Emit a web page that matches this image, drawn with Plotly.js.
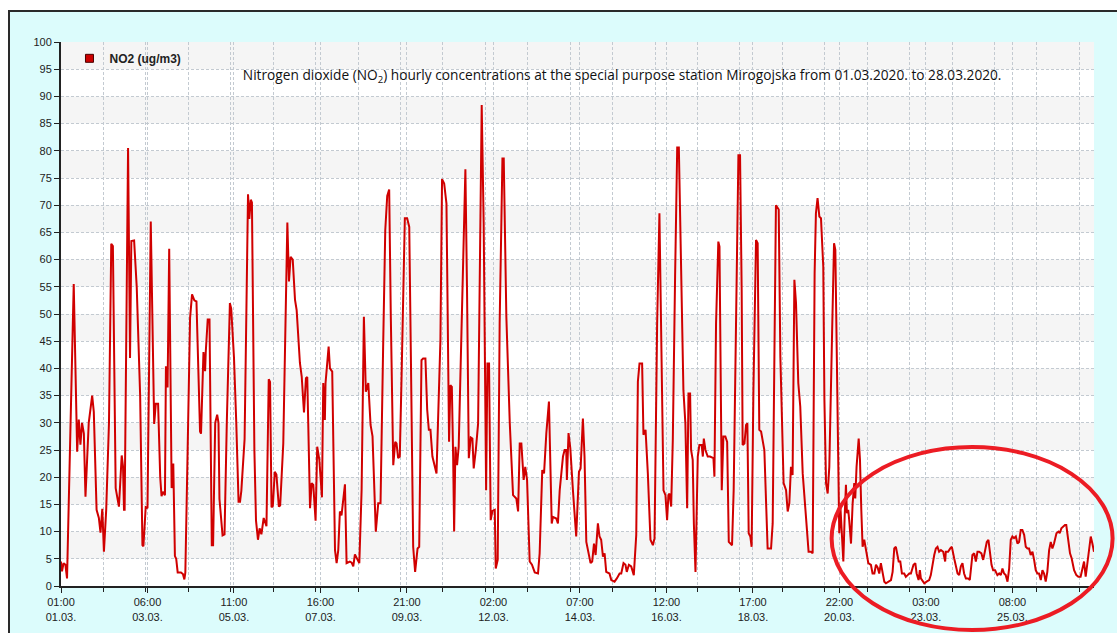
<!DOCTYPE html>
<html><head><meta charset="utf-8">
<script src="https://cdn.plot.ly/plotly-3.0.1.min.js"></script>
<style>
html,body{margin:0;padding:0;background:#ffffff;overflow:hidden;width:1117px;height:633px}
#frame{position:absolute;left:8px;top:10px;width:1140px;height:650px;background:#dcfcfc;border:2px solid #2a2a2a;box-sizing:border-box}
#chart{position:absolute;left:0;top:0;width:1117px;height:633px}
</style></head><body>
<div id="frame"></div><div id="chart"></div>
<script>
// Hours since 01.03.2020 01:00 and NO2 concentrations (ug/m3)
const hoursPart1 = [0,0.6,1.6,2.7,3.7,7.8,9.9,10.9,11.9,12.9,14,15,17,19.1,20.1,21.8,23.2,24.2,25.3,26.3,27.7,29.4,30.8,31.8,33.5,34.9,35.5,37.2,38,38.6,39,41.1,42.3,43.1,44.8,46.4,48.5,49.9,50.5,51.9,53,55,57.1,58.1,59.5,60.8,61.6,62.4,63.7,64.3,65.3,66.3,67.8,68.8,69.8,70.6,71.5,73.5,74.7,75.6,76.2,77.6,79.1,80.3,81.7,83,84.2,85.2,85.8,87.3,88.3,88.7,89.9,91,92.4,93.2,94.5,95.7,96.5,97.1,99,100.2,101.6,103.5,104.3,106,107.4,108.8,109.7,110.5,112.5,114.6,115.4,116.3,117,118.5,119.5,120.7,121.7,122.8,124.2,125.9,127.3,128.1,129,129.8,131,132,133.5,134.3];
const no2Part1 = [4.5,2.7,4.2,3.9,1.4,55.5,24.7,30.6,26,30,28,16.4,30,35,32,14,12.5,9.8,14.2,6.3,14,30,62.9,62.5,18,15,14.6,24,22,14,14,80.5,41.9,63.4,63.5,55,35,7.5,7.3,14.5,14.3,67,29.8,33.5,33.5,20,16.5,17.3,16.7,40.4,36.5,62,18,22.5,5.5,5,2.5,2.5,2.2,1.2,2.5,25,49.3,53.6,52.5,52.3,40,28.4,28,43,39.5,43,49,49,7.5,7.5,30,31.5,30,16,9.3,9.5,30,52,51,42,30,15.5,15.5,17.5,27,72,67.5,71,70.5,25,12,8.5,10.6,9.5,12.5,11,38,37.5,14.5,14.7,21,20.5,14.6,14.8];

const hoursPart2 = [136.2,138.7,139.7,140.7,142,143.4,144.4,146.4,147.5,148.9,150.1,150.9,152.6,153.6,154.6,156,157,158.3,159.9,160.7,161.7,162.1,164,164.8,166.2,167.9,168.9,169.9,170.9,171.9,174,175,177,178.1,179.1,180.1,182.8,184.2,185.6,186.8,188.3,189.7,190.9,192.9,194.4,195.8,197.4,198.7,199.9,201.1,202.1,203.6,204.8,205.6,206.6,207.6,208.7,209.7,210.7,212.1,213.4,214.4,215.8,217,218.5,219.5,220.9,221.9,223.3,224.4,225.4,226.4,227.6,230.1,231.1,232.5,233.5,234.8,236.2,237.2,237.8,238.6,239.5,240.3,240.9,241.7,242.7,243.7,245,246.4,247.8,248.8,249.9,251.1,252.1,252.9,254.2,255.6,256.6,257.8,259,260.1,260.5,261.3,262.3,263.3,264.4,265.8,266.4,267.6,268.8,270.5,271.3,272.9,275,277,279,280.1,281.1,282.1,283.5,284.5,285.6,287.2,288.6,290.3,292.3,293.3,294.9,296,297.4,299,299.4,300.7,301.5,303.5,304.5,305.6];
const no2Part2 = [26.2,66.8,56,60.5,60,52.6,50.7,41,38.5,31.9,38.2,38.4,14.3,18.9,18.6,12,25.6,23.2,16.3,37.3,30.5,37.3,44,40,39.4,6.6,4.2,6.6,13.7,13,18.7,4.2,4.5,4.3,3.6,5.8,4.2,17.6,49.5,35.7,37.3,29.6,27.5,10,15.2,15.2,44,65.4,71.7,72.9,49.5,22.2,26.5,26.2,23.5,23.8,38.5,55,67.6,67.6,66,42.2,7.2,2.6,6.9,7.2,41.5,41.8,41.8,32.4,28.7,28.7,23.8,20.7,29.9,45.2,74.8,74,70.3,36,26.5,36.9,36.6,23.8,10,25.6,22.2,25.6,42.2,63.6,76.6,54.4,23.5,27.3,27.1,21.6,25,29.9,55.6,88.4,66.7,25,17.6,40.9,40.9,12.1,13.8,14,3.2,4.8,48.3,78.6,78.6,49.5,29.9,16.7,16.1,13.7,26.2,26.2,19.5,21.9,19.5,4.5,3.9,2.5,2.3,6,21.3,20.7,28.1,33.9,26.8,11.5,12.7,12.4,11.5,17.6];

const hoursPart3 = [307.6,308.6,309.6,310,311,312.1,313.7,315.7,317.4,318.4,319.8,320.8,321.9,323.5,324.5,325.5,326.6,327.6,329,330,331,332.1,333.1,334.1,336.1,337.2,339.2,340.6,342.3,343.3,344.7,345.9,346.7,348,349.4,351,352.5,353.5,354.5,356.1,356.9,358.2,359.6,361.2,362.7,363.7,365.3,366.7,367.8,369.2,370.4,371.4,372.2,372.9,373.9,374.9,376.3,377.6,378.6,380,381.4,382.6,383.7,384.5,385.5,386.1,387.1,387.8,388.8,390.2,391.2,392.6,393.3,393.9,394.9,396.3,397.7,399.8,400.4,401.4,402.8,403.5,404.1,404.9,405.9,407.1,408.2,409.2,410.2,411.2,412.2,413.7,415.1,416.1,417.1,417.7,418.8,419.8,420.6,421.4,422.4,423.2,424.3,425.9,426.9,427.9,429,431,433,435.1,436.1,438.1,439.8,440.8,442.8,444.3,445.3,446.3,447.3,448.3,449.4,450.4,451.8,453,454.5,456.5,458.1,459.6,460.6,461.8,462.6,463.6,464.7,465.7];
const no2Part3 = [23.8,25,25,19.5,28.1,25.3,17.6,9.1,21,21.6,30.8,23.8,8.1,5.4,4.2,4.5,7.8,5.7,11.5,9.1,8.5,5.4,6,2.6,2.3,1.1,0.8,1.4,2.3,2.3,4.2,3.9,2.6,3.9,3.6,2,9.4,37.6,40.9,40.9,27.8,28.7,20.7,8.5,7.5,8.8,48.3,68.5,42.2,17.6,16.7,12.1,16.7,17,14.6,26.8,56.9,80.6,80.6,57.5,36,29.9,14.3,35.4,35.4,25,23.2,11.5,2.6,23.8,25.9,25.9,23.8,27.1,25,23.8,23.8,23.5,20.1,48.3,63.3,62.4,39.1,17.6,27.5,27.5,26.5,8.1,7.8,7.5,17.6,48.3,79.2,79.2,54.4,25.9,26.2,29.6,29.9,9.7,9.1,7.2,36,63.6,63,28.7,28.4,25,6.9,6.9,11.5,70,69.2,42.2,18.9,17.6,13.7,15.2,21.9,20.4,56.3,52,37.3,33,20.7,12.7,6.3,6.3,6,57.5,68.5,71.3,67.9,67.6];

const hoursPart4 = [467.1,467.8,468.8,469.8,470.8,472.5,473.7,474.5,475.3,476.3,476.9,477.6,478.6,479.4,480.2,481,481.6,482.4,483,484.1,485.1,486.1,486.7,487.5,488.8,489.6,490.4,491.2,492.2,493.3,494.7,496.3,497.3,498.4,499.4,500.4,501.4,502.4,503.5,504.5,505.5,507.5,508.6,509.6,510.6,511.6,512.6,513.3,514.3,515.3,516.7,517.7,518.8,519.8,520.8,522.4,523.5,524.3,525.5,526.3,526.9,528,529,530.4,532,533,534.1,535.1,536.1,537.1,538.1,539.2,540.6,541.8,542.2,543.6,544.9,545.9,547.3,548.3,549.4,550.4,551.4,552.4,553.4,554.5,555.9,556.9,557.5,558.5,559.6,560.6,561.6,562.6,564,565.1,566.1,567.3,568.3,569.1,570.2,571.2,572.4,573.8,574.9,575.9,576.9,577.9,578.9,580,581,582,583,584,585.1,586.1,587.1,588.1,589.1,590.2,591.2,592.2,593.2,594.2,595.3,596.3,597.3,598.3,599.3,600.4,601.4,602.4,603.4,604.4,605.5,606.5,607.5,608.5,610,611.2,612,613,614.2,615.2,616,617.3,618.3,619.3,620.8,622.2,623.4,624.8,625.9,626.9,627.9,628.9,630,631,632,633];
const no2Part4 = [58.7,34.2,18.9,17,21.9,46.4,63,61.8,40.3,15.8,9.7,14.6,9.7,4.5,12.7,18.6,13.4,14,12.1,7.8,15.2,18.9,16.1,21.9,27.1,23.2,14,7.2,8.5,6.9,4.2,3.9,2.3,2.3,3.9,3.4,2.3,4.2,2,0.8,0.5,0.8,1.1,2.6,6.9,7.2,5.1,4.5,4.5,2.3,2.3,1.7,2,2.3,2.3,3.9,4.2,2.3,1.1,2.9,1.4,0.8,0.5,0.8,1.1,2,4.2,5.7,6.9,7.2,6.3,6.6,6.3,4.5,6.3,6.3,6.9,7.2,5.1,3.6,2.3,2,3.6,4.2,2.3,1.4,1.4,1.1,3.2,5.7,6,4.5,6.3,6.3,6,4.8,6.3,8.1,8.5,6.3,3.9,2.9,2.9,2,2.3,2,3.2,2.3,2,0.8,3.2,8.5,9.1,8.8,9.1,7.8,8.1,10.3,10.3,9.4,7.2,6.9,6.9,5.7,6.3,4.8,2.9,2.3,2.3,1.1,2.9,2.3,0.8,2.6,6.6,8.1,6.9,7.8,9.7,10,9.7,10.6,10.9,11.2,11.2,8.1,6,5.1,2.9,2,1.7,1.7,2.9,4.5,1.7,4.5,7.2,9.1,7.8,6.3];

const tickHours = [0,53,106,159,212,265,318,371,424,477,530,583];
const tickLabels = ['01:00<br>01.03.','06:00<br>03.03.','11:00<br>05.03.','16:00<br>07.03.','21:00<br>09.03.','02:00<br>12.03.','07:00<br>14.03.','12:00<br>16.03.','17:00<br>18.03.','22:00<br>20.03.','03:00<br>23.03.','08:00<br>25.03.'];
const seriesName = 'NO2 (ug/m3)';
const chartTitle = 'Nitrogen dioxide (NO<sub>2</sub>) hourly concentrations at the special purpose station Mirogojska from 01.03.2020. to 28.03.2020.';

const hours = hoursPart1.concat(hoursPart2, hoursPart3, hoursPart4);
const no2 = no2Part1.concat(no2Part2, no2Part3, no2Part4);

const gridCol = '#c3cad1';
const tickFont = {family:'Liberation Sans, Arial, sans-serif', size:11, color:'#222'};

const shapes = [];
for (let v = 5; v < 100; v += 10) {
  shapes.push({type:'rect', xref:'paper', yref:'y', x0:0, x1:1, y0:v, y1:v+5,
    fillcolor:'#f5f5f5', line:{width:0}, layer:'below'});
}
shapes.push({type:'circle', xref:'paper', yref:'paper', x0:0.746, x1:1.018, y0:-0.081, y1:0.2555,
  line:{color:'#ec1c24', width:4}, layer:'above'});

const traces = [
  {type:'scatter', mode:'lines', x:hours, y:no2, name:seriesName, showlegend:false,
   line:{color:'#d00000', width:2}, hoverinfo:'x+y'},
  {type:'scatter', mode:'markers', x:[null], y:[null], name:seriesName, showlegend:true,
   marker:{symbol:'square', size:8, color:'#cc0000', line:{color:'#4a0000', width:1}}, hoverinfo:'skip'}
];

const layout = {
  width:1117, height:633,
  margin:{l:61, r:23, t:42, b:47, pad:0},
  paper_bgcolor:'rgba(0,0,0,0)', plot_bgcolor:'#ffffff',
  title:{text:chartTitle, x:0.557, xanchor:'center', y:0.8815, yanchor:'middle',
    font:{family:'Open Sans, sans-serif', size:13.7, color:'#111'}},
  showlegend:true,
  legend:{x:0.0082, xanchor:'left', y:0.97, yanchor:'middle', bgcolor:'rgba(0,0,0,0)',
    borderwidth:0, itemwidth:30,
    font:{family:'Liberation Sans, Arial, sans-serif', size:12, color:'#222', weight:'bold'}},
  xaxis:{range:[0,633], tickmode:'array', tickvals:tickHours, ticktext:tickLabels,
    ticks:'outside', ticklen:5, tickwidth:1, tickcolor:'#222',
    showline:true, linecolor:'#222', linewidth:2, zeroline:false,
    showgrid:true, gridcolor:gridCol, gridwidth:1, griddash:'3px,2px',
    tickfont:tickFont, fixedrange:true,
    minor:{tickmode:'linear', tick0:0, dtick:26, ticks:'outside', ticklen:4, tickcolor:'#222',
      showgrid:true, gridcolor:gridCol, gridwidth:1, griddash:'3px,2px'}},
  yaxis:{range:[0,100], tickmode:'linear', tick0:0, dtick:5,
    ticks:'outside', ticklen:5, tickwidth:1, tickcolor:'#222',
    showline:true, linecolor:'#222', linewidth:2, zeroline:false,
    showgrid:true, gridcolor:gridCol, gridwidth:1, griddash:'3px,2px',
    tickfont:tickFont, fixedrange:true},
  shapes:shapes
};

Plotly.newPlot('chart', traces, layout, {displayModeBar:false, responsive:false});
</script></body></html>
